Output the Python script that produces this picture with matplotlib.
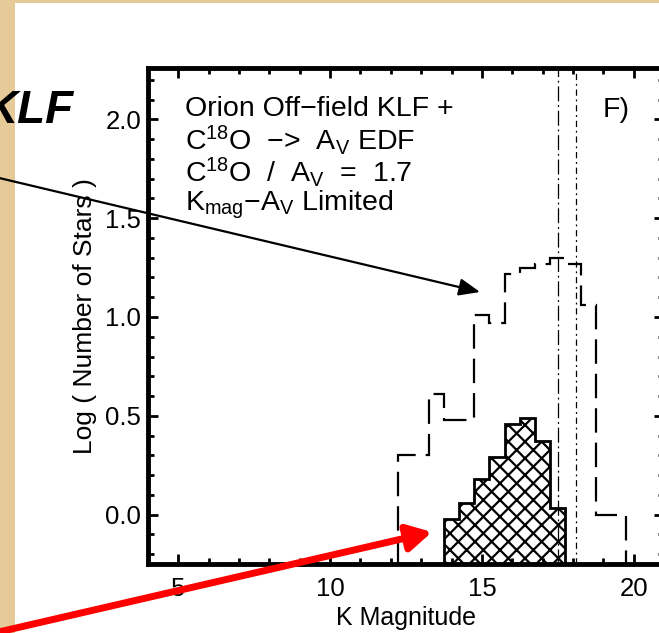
import matplotlib
matplotlib.use('Agg')
import matplotlib.pyplot as plt
from matplotlib.patches import Rectangle, FancyArrowPatch
from matplotlib.ticker import MultipleLocator

# full off-field KLF (dashed), log10 N per 0.5 mag bin
klf_edges = [12.25, 12.75, 13.25, 13.75, 14.25, 14.75, 15.25, 15.75,
             16.25, 16.75, 17.25, 17.75, 18.25, 18.75, 19.25, 19.75]
klf_log_n = [0.30, 0.30, 0.61, 0.48, 0.48, 1.01, 0.97, 1.22,
             1.25, 1.27, 1.30, 1.27, 1.06, 0.0, 0.0]

# extinction limited KLF (hatched)
lim_edges = [13.75, 14.25, 14.75, 15.25, 15.75, 16.25, 16.75, 17.25, 17.75]
lim_log_n = [-0.02, 0.06, 0.18, 0.29, 0.46, 0.49, 0.37, 0.035]

# completeness / limit lines
limit_mags = [17.5, 18.09]

label_lines = ['Orion Off\u2212field KLF +',
               'C$^{18}$O  \u2212>  A$_V$ EDF',
               'C$^{18}$O  /  A$_V$  =  1.7',
               'K$_{mag}$\u2212A$_V$ Limited']

W, H = 659, 633


def fxy(x, y):
    """pixel position (from top left) -> figure fraction"""
    return (x / W, 1 - y / H)


plt.rcParams['font.family'] = ['Liberation Sans', 'DejaVu Sans']
plt.rcParams['mathtext.default'] = 'regular'
plt.rcParams['hatch.linewidth'] = 1.6

fig = plt.figure(figsize=(W / 100, H / 100), dpi=100)
fig.patch.set_facecolor('#e6ca98')

# white slide area
fig.add_artist(Rectangle((15 / W, 0), 1, (H - 3) / H, transform=fig.transFigure,
                         facecolor='white', edgecolor='none', zorder=-10))

ax = fig.add_axes([148 / W, (H - 564) / H, (664 - 148) / W, (564 - 68) / H])

ax.stairs(klf_log_n, klf_edges, baseline=-1, color='black', linewidth=1.6,
          linestyle=(0, (11, 4.5)))
ax.stairs(lim_log_n, lim_edges, baseline=-1, fill=True, facecolor='white',
          edgecolor='black', hatch='xx', linewidth=2)
ax.axvline(limit_mags[0], color='black', linewidth=0.9, linestyle=(0, (12, 3, 1.5, 3)))
ax.axvline(limit_mags[1], color='black', linewidth=0.9, linestyle=(0, (5, 3, 1.5, 3)))

ax.set_xlim(4, 21)
ax.set_ylim(-0.25, 2.26)
ax.xaxis.set_major_locator(MultipleLocator(5))
ax.xaxis.set_minor_locator(MultipleLocator(1))
ax.yaxis.set_major_locator(MultipleLocator(0.5))
ax.yaxis.set_minor_locator(MultipleLocator(0.1))
ax.tick_params(which='both', direction='in', top=True, right=True, width=2)
ax.tick_params(which='major', length=7, labelsize=18.5)
ax.tick_params(which='minor', length=4)
ax.tick_params(axis='x', pad=9)
ax.tick_params(axis='y', pad=5)
for s in ax.spines.values():
    s.set_linewidth(3.5)

ax.set_xlabel('K Magnitude', fontsize=18, labelpad=4)
ax.set_ylabel('Log ( Number of Stars )', fontsize=19, labelpad=6)

for i, line in enumerate(label_lines):
    fig.text(*fxy(185, [116, 150, 182, 211][i]), line, fontsize=20.5, va='baseline')
fig.text(*fxy(603, 117), 'F)', fontsize=20.5, va='baseline')

fig.text(*fxy(73, 123), 'KLF', fontsize=33, fontweight='bold', fontstyle='italic',
         ha='right', va='baseline')

# slide arrows
fig.add_artist(FancyArrowPatch(fxy(-5, 177), fxy(480, 292), transform=fig.transFigure,
                               arrowstyle='-|>,head_length=0.85,head_width=0.35',
                               mutation_scale=15, color='black', linewidth=1.6,
                               shrinkA=0, shrinkB=0, zorder=5))
fig.add_artist(FancyArrowPatch(fxy(-10, 634), fxy(432, 532), transform=fig.transFigure,
                               arrowstyle='-|>,head_length=1.45,head_width=0.8',
                               mutation_scale=10, color='#ff0000', linewidth=5,
                               shrinkA=0, shrinkB=0, zorder=5))

fig.savefig('out.png', dpi=100, facecolor=fig.get_facecolor())
